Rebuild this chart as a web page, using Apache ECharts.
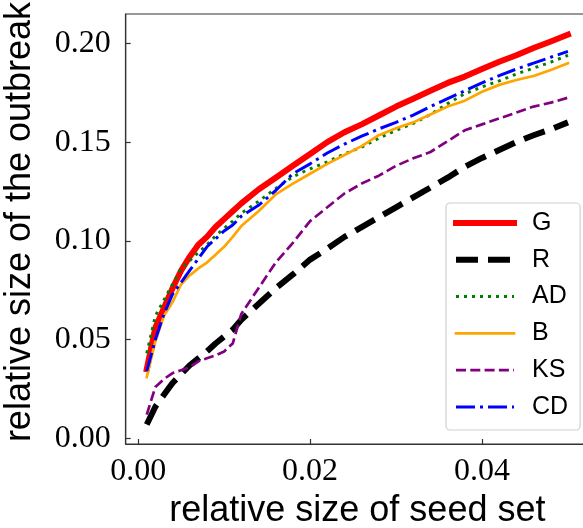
<!DOCTYPE html>
<html>
<head>
<meta charset="utf-8">
<script src="https://cdn.jsdelivr.net/npm/echarts@6/dist/echarts.min.js"></script>
<style>
html,body{margin:0;padding:0;background:#fff;}
#c{width:583px;height:528px;}
</style>
</head>
<body>
<div id="c"></div>
<script>
var xs = [0.001,0.002,0.003,0.004,0.005,0.006,0.007,0.008,0.009,0.010,0.011,0.012,0.014,0.016,0.018,0.020,0.022,0.024,0.026,0.028,0.030,0.032,0.034,0.036,0.038,0.040,0.042,0.044,0.046,0.048,0.050];
var G  = [0.035,0.056,0.066,0.076,0.085,0.092,0.098,0.102,0.107,0.111,0.115,0.119,0.126,0.132,0.138,0.144,0.150,0.155,0.159,0.1635,0.168,0.172,0.176,0.180,0.1832,0.187,0.1907,0.194,0.1977,0.201,0.2045];
var R  = [0.007,0.016,0.022,0.028,0.0325,0.037,0.0405,0.044,0.048,0.0515,0.055,0.060,0.068,0.076,0.083,0.0905,0.096,0.102,0.107,0.112,0.117,0.122,0.127,0.132,0.1375,0.142,0.146,0.150,0.1535,0.1565,0.160];
var AD = [0.043,0.062,0.070,0.078,0.086,0.090,0.094,0.098,0.1025,0.1064,0.110,0.114,0.120,0.1265,0.1325,0.1365,0.140,0.144,0.1475,0.152,0.156,0.1595,0.164,0.1695,0.1745,0.178,0.181,0.1845,0.1875,0.1905,0.194];
var B  = [0.031,0.049,0.062,0.069,0.078,0.0825,0.086,0.089,0.093,0.097,0.102,0.1075,0.115,0.1235,0.129,0.134,0.139,0.1435,0.148,0.1535,0.157,0.160,0.164,0.168,0.171,0.1755,0.179,0.1815,0.1835,0.1865,0.190];
var KS = [0.012,0.026,0.030,0.033,0.0345,0.036,0.039,0.0405,0.042,0.044,0.048,0.063,0.076,0.089,0.099,0.110,0.117,0.124,0.129,0.133,0.138,0.1418,0.145,0.1505,0.156,0.159,0.162,0.165,0.168,0.170,0.1725];
var CD = [0.034,0.050,0.063,0.073,0.079,0.085,0.091,0.097,0.101,0.105,0.108,0.1125,0.118,0.1255,0.134,0.139,0.1445,0.149,0.153,0.1567,0.160,0.1637,0.168,0.172,0.176,0.180,0.1837,0.187,0.190,0.193,0.196];
var seriesNames = ['G','R','AD','B','KS','CD'];
var xTicks = [0, 0.02, 0.04];
var yTicks = [0, 0.05, 0.10, 0.15, 0.20];

function pairs(ys){ return xs.map(function(x,i){ return [x, ys[i]]; }); }

var styles = {
  G:  {color:'#ff0000', width:6,   type:'solid', cap:'square'},
  R:  {color:'#000000', width:6,   type:[22,10], cap:'butt'},
  AD: {color:'#008000', width:3,   type:[3,5],   cap:'butt'},
  B:  {color:'#ffa500', width:2.7, type:'solid', cap:'square'},
  KS: {color:'#800080', width:2.7, type:[10,4.3], cap:'butt'},
  CD: {color:'#0000ff', width:3,   type:[19,5,3,5], cap:'butt'}
};
var values = {G:G, R:R, AD:AD, B:B, KS:KS, CD:CD};

var chart = echarts.init(document.getElementById('c'), null, {renderer:'canvas'});
var serif = 'Liberation Serif';
var sans = 'Liberation Sans';

var option = {
  animation: false,
  backgroundColor: '#ffffff',
  grid: {left: 125.7, top: 14, right: -6, bottom: 84, outerBoundsMode: 'none', containLabel: false,
    show: true, borderColor: '#333', borderWidth: 1.2, backgroundColor: 'transparent'},
  xAxis: {
    type: 'value', min: -0.00145, max: 0.05245,
    name: 'relative size of seed set', nameLocation: 'middle', nameGap: 46,
    nameTextStyle: {fontFamily: sans, fontSize: 36, color: '#000'},
    axisLine: {show: true, onZero: false, lineStyle: {color: '#333', width: 1.2}},
    axisTick: {show: true, inside: true, length: 5, customValues: xTicks, lineStyle: {color: '#333', width: 1.2}},
    axisLabel: {customValues: xTicks, fontFamily: serif, fontSize: 32, color: '#000', margin: 12,
      formatter: function(v){ return v.toFixed(2); }},
    splitLine: {show: false}
  },
  yAxis: {
    type: 'value', min: -0.0029, max: 0.2149,
    name: 'relative size of the outbreak', nameLocation: 'middle', nameGap: 88,
    nameTextStyle: {fontFamily: sans, fontSize: 36, color: '#000', padding: [0,0,0,14]},
    axisLine: {show: true, onZero: false, lineStyle: {color: '#333', width: 1.2}},
    axisTick: {show: true, inside: true, length: 5, customValues: yTicks, lineStyle: {color: '#333', width: 1.2}},
    axisLabel: {customValues: yTicks, fontFamily: serif, fontSize: 32, color: '#000', margin: 15,
      formatter: function(v){ return v.toFixed(2); }},
    splitLine: {show: false}
  },
  legend: {
    orient: 'vertical', left: 446, top: 203,
    padding: [7, 12, 10, 7],
    backgroundColor: '#fff', borderColor: '#d0d0d0', borderWidth: 1.2, borderRadius: 4,
    itemWidth: 58, itemHeight: 26, itemGap: 10.8,
    textStyle: {fontFamily: sans, fontSize: 25, color: '#000', lineHeight: 26, padding: [0,0,0,13]},
    data: seriesNames.map(function(n){
      var s = styles[n];
      return {name: n, lineStyle: {color: s.color, width: s.width, type: s.type, cap: s.cap}, itemStyle: {opacity: 0}};
    })
  },
  series: seriesNames.map(function(n){
    var s = styles[n];
    return {
      name: n, type: 'line', data: pairs(values[n]),
      showSymbol: false, symbol: 'none', smooth: false,
      lineStyle: {color: s.color, width: s.width, type: s.type, cap: s.cap, join: 'round'},
      itemStyle: {color: s.color},
      emphasis: {disabled: true}
    };
  })
};
chart.setOption(option);
</script>
</body>
</html>
